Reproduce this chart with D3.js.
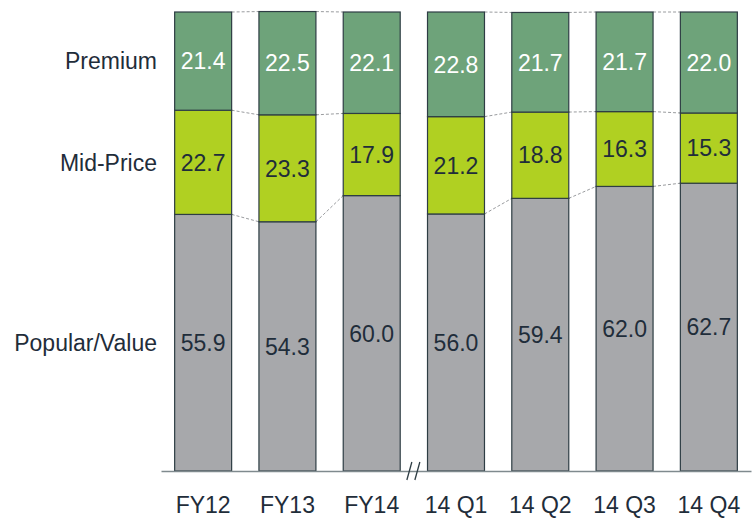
<html>
<head>
<script src="https://d3js.org/d3.v7.min.js"></script>
<style>
body { margin: 0; background: #fff; }
text { font-family: "Liberation Sans", Arial, sans-serif; }
</style>
</head>
<body>
<svg id="chart" width="753" height="519"></svg>
<script>
// data (percent shares, bottom to top)
var periods = ["FY12", "FY13", "FY14", "14 Q1", "14 Q2", "14 Q3", "14 Q4"];
var segments = ["Popular/Value", "Mid-Price", "Premium"];
var popular = [55.9, 54.3, 60.0, 56.0, 59.4, 62.0, 62.7];
var midPrice = [22.7, 23.3, 17.9, 21.2, 18.8, 16.3, 15.3];
var premium = [21.4, 22.5, 22.1, 22.8, 21.7, 21.7, 22.0];

var fills = {"Popular/Value": "#a7a8ab", "Mid-Price": "#b0d022", "Premium": "#6ea37a"};
var labelColor = {"Popular/Value": "#1f2d3a", "Mid-Price": "#1f2d3a", "Premium": "#ffffff"};

var rows = periods.map(function(p, i) {
  return {period: p, "Popular/Value": popular[i], "Mid-Price": midPrice[i], "Premium": premium[i]};
});
var stacked = d3.stack().keys(segments)(rows);

var svg = d3.select("#chart");

var x = d3.scaleBand()
  .domain(periods)
  .range([161, 751])
  .paddingInner(0.324)
  .paddingOuter(0.162);

var y = d3.scaleLinear().domain([0, 100]).range([471, 12]);

// dashed connectors between neighbouring bars (not across the break)
var breakAfter = "FY14";
var connectors = [];
stacked.forEach(function(layer) {
  for (var i = 0; i < periods.length - 1; i++) {
    if (periods[i] === breakAfter) continue;
    connectors.push({x1: x(periods[i]) + x.bandwidth(), y1: y(layer[i][1]),
                     x2: x(periods[i + 1]), y2: y(layer[i + 1][1])});
  }
});
svg.append("g").selectAll("line")
  .data(connectors)
  .enter().append("line")
  .attr("x1", function(d) { return d.x1; })
  .attr("y1", function(d) { return d.y1; })
  .attr("x2", function(d) { return d.x2; })
  .attr("y2", function(d) { return d.y2; })
  .attr("stroke", "#9a9c9f")
  .attr("stroke-width", 1)
  .attr("stroke-dasharray", "3,2");

// bars
var layers = svg.append("g").selectAll("g")
  .data(stacked)
  .enter().append("g")
  .attr("fill", function(d) { return fills[d.key]; });

layers.selectAll("rect")
  .data(function(d) { return d; })
  .enter().append("rect")
  .attr("x", function(d) { return x(d.data.period); })
  .attr("y", function(d) { return y(d[1]); })
  .attr("width", x.bandwidth())
  .attr("height", function(d) { return y(d[0]) - y(d[1]); })
  .attr("stroke", "#2e3d44")
  .attr("stroke-width", 1.2);

// value labels
stacked.forEach(function(layer) {
  svg.append("g").selectAll("text")
    .data(layer)
    .enter().append("text")
    .attr("x", function(d) { return x(d.data.period) + x.bandwidth() / 2; })
    .attr("y", function(d) { return (y(d[0]) + y(d[1])) / 2; })
    .attr("dy", "0.36em")
    .attr("text-anchor", "middle")
    .attr("font-size", 23)
    .attr("fill", labelColor[layer.key])
    .text(function(d) { return d3.format(".1f")(d.data[layer.key]); });
});

// row labels on the left, lined up with the first bar's segments
svg.append("g").selectAll("text")
  .data(stacked)
  .enter().append("text")
  .attr("x", 157)
  .attr("y", function(d) { return (y(d[0][0]) + y(d[0][1])) / 2; })
  .attr("dy", "0.36em")
  .attr("text-anchor", "end")
  .attr("font-size", 23)
  .attr("fill", "#1f2d3a")
  .text(function(d) { return d.key; });

// baseline axis
var xAxis = d3.axisBottom(x).tickSize(0).tickPadding(26);
var gx = svg.append("g")
  .attr("transform", "translate(0," + y(0) + ")")
  .call(xAxis);
gx.select(".domain").attr("stroke", "#7f8a8e").attr("stroke-width", 1.5);
gx.selectAll("text")
  .attr("font-size", 23)
  .attr("font-family", "Liberation Sans, Arial, sans-serif")
  .attr("fill", "#1f2d3a");

// break marker "//" between FY14 and 14 Q1
var bx = (x("FY14") + x.bandwidth() + x("14 Q1")) / 2;
[-5, 3].forEach(function(off) {
  svg.append("line")
    .attr("x1", bx + off - 2).attr("y1", y(0) + 9)
    .attr("x2", bx + off + 3).attr("y2", y(0) - 9)
    .attr("stroke", "#2e3d44")
    .attr("stroke-width", 1.3);
});
</script>
</body>
</html>
